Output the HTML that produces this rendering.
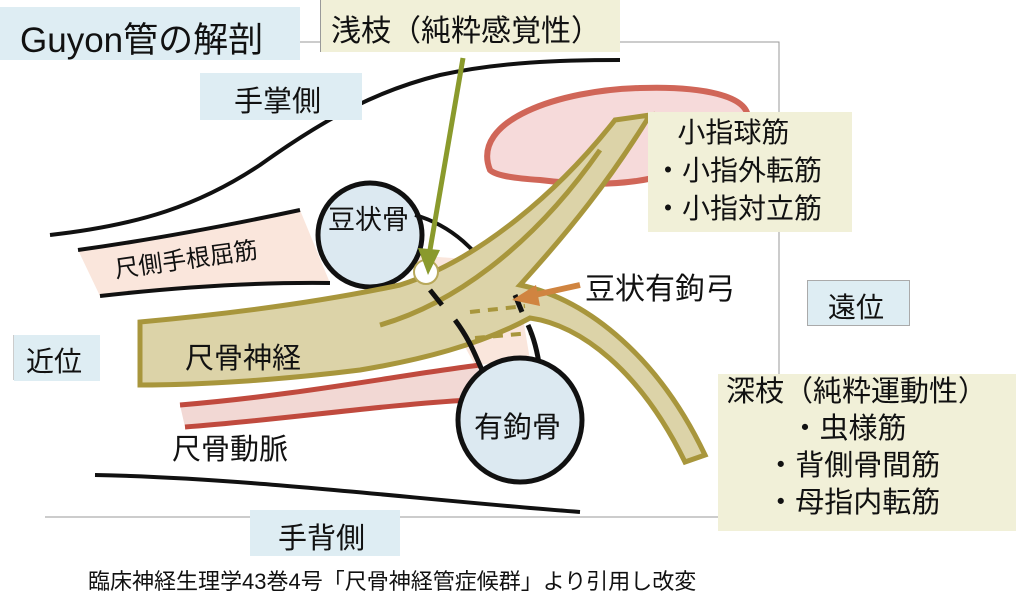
<!DOCTYPE html>
<html><head><meta charset="utf-8"><style>
html,body{margin:0;padding:0;background:#fff;}
body{width:1024px;height:611px;overflow:hidden;position:relative;font-family:"Liberation Sans","Noto Sans CJK JP",sans-serif;color:#111;}
.b{position:absolute;box-sizing:border-box;white-space:nowrap;}
.blue{background:#deedf3;}
.yel{background:#f1f0d8;}
svg{position:absolute;left:0;top:0;}
</style></head><body>
<svg width="1024" height="611" viewBox="0 0 1024 611">
<path d="M0 59 H40 M300 42 H779 V517 H45 M14 380 V335" stroke="#999" stroke-width="1" fill="none"/>
<path d="M490 170 C470 120 560 90 640 88 C700 86 750 95 748 120 L700 160 C650 190 580 185 540 180 C510 178 495 175 490 170Z" fill="#f6dada" stroke="#d06658" stroke-width="6"/>
<path d="M50 235 C140 225 200 205 260 165 C330 115 380 90 440 75 C500 62 560 60 620 60" stroke="#111" stroke-width="4" fill="none"/>
<path d="M78 250 C150 240 230 225 300 210 L330 283 C250 282 170 288 100 296 Z" fill="#fae6dc"/>
<path d="M78 250 C150 240 230 225 300 210" stroke="#111" stroke-width="4" fill="none"/>
<path d="M100 296 C170 288 250 282 330 283" stroke="#111" stroke-width="4" fill="none"/>
<path d="M410 255 L480 260 L520 300 L530 360 L475 365 L450 320Z" fill="#fae6dc"/>
<circle cx="370" cy="235" r="52" fill="#dce9f1" stroke="#111" stroke-width="5"/>
<path d="M415 215 C450 225 480 250 500 290" stroke="#111" stroke-width="4" fill="none"/>
<path d="M140 322 C250 312 330 300 400 285 C480 260 560 190 615 120 L650 115 C610 180 570 230 520 285 C590 300 660 360 705 455 L685 462 C640 370 580 325 530 318 C480 345 420 360 360 370 C280 380 200 385 140 385 Z" fill="#dcd3a8" stroke="#a8963c" stroke-width="5"/>
<path d="M380 325 C450 305 530 250 600 150" stroke="#a8963c" stroke-width="5" fill="none"/>
<path d="M470 312 L525 306 M475 338 L530 333" stroke="#a8963c" stroke-width="4" stroke-dasharray="10 8" fill="none"/>
<path d="M180 405 C300 395 400 375 480 365 L470 400 C380 405 280 420 185 427Z" fill="#f2d8d4"/>
<path d="M180 405 C300 395 400 375 480 365 M185 427 C280 420 380 405 470 400" stroke="#c04a3e" stroke-width="5" fill="none"/>
<path d="M430 290 L442 305 M455 320 C470 340 475 355 482 370 M515 295 L522 312 M528 325 C535 340 538 355 540 370" stroke="#111" stroke-width="5" fill="none"/>
<circle cx="520" cy="420" r="62" fill="#dce9f1" stroke="#111" stroke-width="5"/>
<path d="M95 475 C250 478 420 500 580 512" stroke="#111" stroke-width="4" fill="none"/>
<circle cx="426" cy="272" r="12" fill="#fff" stroke="#b8a85a" stroke-width="2"/>
<path d="M463 58 L430 250" stroke="#8a9a2c" stroke-width="5"/>
<path d="M418 248 L428 275 L440 250Z" fill="#8a9a2c"/>
<path d="M580 285 L530 296" stroke="#d08440" stroke-width="6"/>
<path d="M536 285 L512 300 L540 306Z" fill="#d08440"/>
</svg>
<div class="b blue" style="left:0;top:7px;width:300px;height:53px;font-size:35px;padding:5px 0 0 20px;">Guyon管の解剖</div>
<div class="b yel" style="left:320px;top:0;width:300px;height:52px;font-size:30px;padding:6px 0 0 10px;border-left:1px solid #999;">浅枝（純粋感覚性）</div>
<div class="b blue" style="left:200px;top:73px;width:162px;height:47px;font-size:29px;padding:5px 0 0 34px;">手掌側</div>
<div class="b yel" style="left:648px;top:112px;width:204px;height:120px;font-size:28px;line-height:38px;padding:2px 0 0 6px;">&nbsp;&nbsp;&nbsp;小指球筋<br>・小指外転筋<br>・小指対立筋</div>
<div class="b blue" style="left:807px;top:280px;width:103px;height:46px;font-size:28px;padding:5px 0 0 20px;border:1px solid #aaa;">遠位</div>
<div class="b blue" style="left:14px;top:335px;width:86px;height:46px;font-size:28px;padding:5px 0 0 12px;">近位</div>
<div class="b yel" style="left:718px;top:374px;width:298px;height:157px;font-size:29px;line-height:37px;padding:0 0 0 8px;">深枝（純粋運動性）<br>&nbsp;&nbsp;&nbsp;&nbsp;&nbsp;&nbsp;&nbsp;&nbsp;・虫様筋<br>&nbsp;&nbsp;&nbsp;&nbsp;&nbsp;・背側骨間筋<br>&nbsp;&nbsp;&nbsp;&nbsp;&nbsp;・母指内転筋</div>
<div class="b blue" style="left:250px;top:510px;width:150px;height:46px;font-size:29px;padding:5px 0 0 28px;">手背側</div>
<div class="b" style="left:328px;top:198px;font-size:27px;">豆状骨</div>
<div class="b" style="left:112px;top:250px;font-size:24px;transform:rotate(-8deg);transform-origin:left top;">尺側手根屈筋</div>
<div class="b" style="left:585px;top:264px;font-size:30px;">豆状有鉤弓</div>
<div class="b" style="left:185px;top:335px;font-size:29px;">尺骨神経</div>
<div class="b" style="left:172px;top:426px;font-size:29px;">尺骨動脈</div>
<div class="b" style="left:474px;top:404px;font-size:29px;">有鉤骨</div>
<div class="b" style="left:88px;top:564px;font-size:22px;">臨床神経生理学43巻4号「尺骨神経管症候群」より引用し改変</div>
</body></html>
